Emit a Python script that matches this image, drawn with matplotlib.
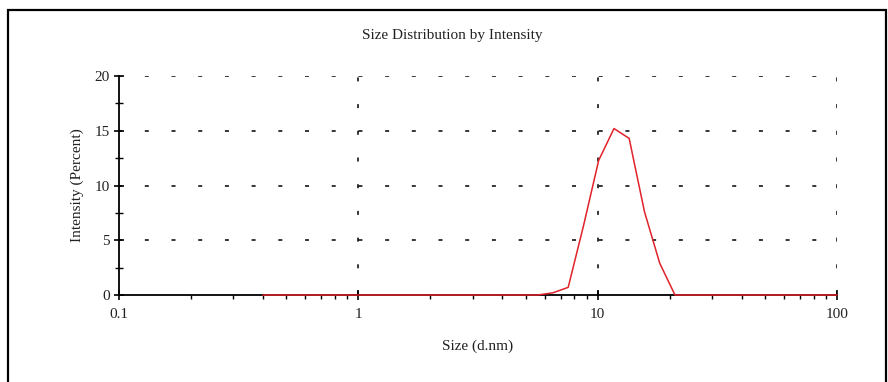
import numpy as np
import matplotlib.pyplot as plt
from matplotlib.patches import Rectangle
from matplotlib.ticker import LogLocator, FixedLocator, FixedFormatter, NullFormatter

# size bins (d.nm) and intensity (%)
sizes = [0.4, 0.4632, 0.5365, 0.6213, 0.7195, 0.8332, 0.9649, 1.117, 1.294,
         1.499, 1.736, 2.01, 2.328, 2.696, 3.122, 3.615, 4.187, 4.849, 5.615,
         6.503, 7.531, 8.721, 10.1, 11.7, 13.54, 15.69, 18.17, 21.04, 24.36,
         28.21, 32.67, 37.84, 43.82, 50.75, 58.77, 68.06, 78.82, 91.28, 100.0]
intensity = [0, 0, 0, 0, 0, 0, 0, 0, 0,
             0, 0, 0, 0, 0, 0, 0, 0, 0, 0,
             0.2, 0.7, 6.3, 12.3, 15.2, 14.3, 7.6, 2.9, 0, 0,
             0, 0, 0, 0, 0, 0, 0, 0, 0, 0]

x_ticks = [0.1, 1, 10, 100]
x_labels = ["0.1", "1", "10", "100"]
y_ticks = [0, 5, 10, 15, 20]

plt.rcParams["font.family"] = ["Liberation Serif", "DejaVu Serif"]
text_col = "#222222"
px = 72 / 100  # points per pixel at dpi 100

fig = plt.figure(figsize=(8.88, 3.82), dpi=100)

# outer frame
fig.patches.append(Rectangle((8 / 888, -0.05), 878 / 888, 1.05 - 10 / 382,
                             transform=fig.transFigure, fill=False,
                             edgecolor="black", linewidth=1.6))

ax = fig.add_axes([119 / 888, 87 / 382, 718 / 888, 219 / 382])
ax.set_xscale("log")
ax.set_xlim(0.1, 100)
ax.set_ylim(0, 20)

ax.plot(sizes, intensity, color="#e0222a", linewidth=1.1, zorder=5, clip_on=False)

# sparse dashed grid
dash = (0.8 * px, (4 * px / 1.1, 22.7 * px / 1.1))
for y in y_ticks[1:]:
    ax.axhline(y, color="black", linewidth=1.1, linestyle=dash, zorder=1)
for x in [1, 10, 100]:
    ax.axvline(x, color="black", linewidth=1.1, linestyle=(0, (4 * px / 1.1, 22.7 * px / 1.1)),
               zorder=1)

for side in ["top", "right"]:
    ax.spines[side].set_visible(False)
for side in ["left", "bottom"]:
    ax.spines[side].set_linewidth(1.3)

ax.xaxis.set_major_locator(FixedLocator(x_ticks))
ax.xaxis.set_major_formatter(FixedFormatter(x_labels))
ax.xaxis.set_minor_locator(LogLocator(base=10, subs=np.arange(2, 10)))
ax.xaxis.set_minor_formatter(NullFormatter())
ax.yaxis.set_major_locator(FixedLocator(y_ticks))
ax.yaxis.set_minor_locator(FixedLocator([2.5, 7.5, 12.5, 17.5]))

ax.tick_params(axis="both", which="major", direction="inout", length=7, width=1.2,
               labelsize=11, colors="black", labelcolor=text_col)
ax.tick_params(axis="x", which="minor", direction="out", length=3, width=1)
ax.tick_params(axis="y", which="minor", direction="inout", length=6, width=1)
ax.tick_params(axis="x", which="major", pad=6)
ax.tick_params(axis="y", which="major", pad=3)

ax.set_xlabel("Size (d.nm)", fontsize=11, color=text_col, labelpad=13)
ax.set_ylabel("Intensity (Percent)", fontsize=11, color=text_col, labelpad=8)
fig.text(452 / 888, 1 - 35 / 382, "Size Distribution by Intensity", fontsize=11,
         color=text_col, ha="center", va="center")

fig.savefig("out.png", dpi=100)
